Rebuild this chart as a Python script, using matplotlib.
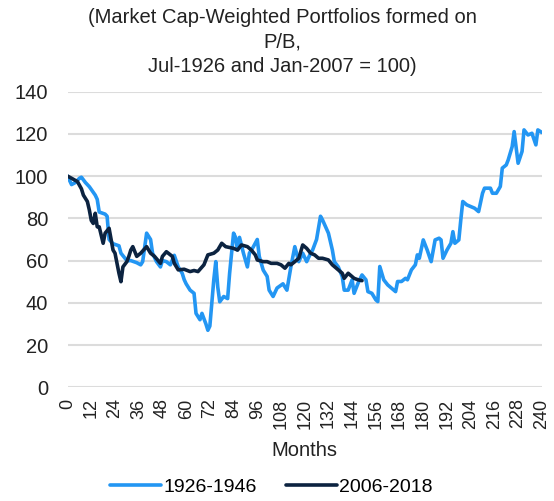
import numpy as np
import matplotlib.pyplot as plt

plt.rcParams['font.family'] = ['Liberation Sans', 'DejaVu Sans']

# 1926-1946 series (months since start, index value)
m_1926 = [0, 2, 4, 6, 7, 9, 11, 14, 15, 16, 19, 20, 21, 23, 26, 27, 30, 32, 35, 37,
          38, 40, 42, 43, 45, 47, 48, 50, 52, 54, 56, 58, 59, 60, 62, 64, 65, 67, 68, 70,
          71, 72, 74, 75, 76, 77, 79, 81, 82, 84, 85, 86, 87, 89, 91, 92, 94, 96, 97, 99,
          101, 102, 104, 106, 109, 111, 113, 115, 117, 119, 121, 123, 124, 126, 128, 129, 132, 134, 135, 137,
          139, 140, 142, 144, 145, 147, 149, 151, 152, 154, 156, 157, 158, 160, 162, 164, 166, 167, 169, 171,
          172, 174, 176, 177, 178, 180, 182, 184, 186, 188, 189, 190, 192, 194, 195, 196, 198, 199, 200, 202,
          204, 206, 208, 210, 211, 214, 215, 217, 219, 220, 222, 223, 225, 226, 228, 230, 231, 233, 235, 237,
          238, 240]
v_1926 = [100, 96, 97, 99, 99.5, 97, 95, 91, 89, 83, 82, 81, 70, 68, 67, 63.5, 60, 60, 59, 58,
          59.5, 73, 70, 63.5, 59.5, 57, 60, 59.5, 58, 62.5, 57, 54, 51, 49, 46, 44.5, 35, 32, 35, 30,
          27, 29, 51, 59.5, 47.5, 40.5, 43, 42, 54, 73, 71, 65, 71, 63.5, 57, 63.5, 66.5, 70, 62, 55.5,
          52.5, 46, 43, 47, 49, 46, 57, 66.6, 59.5, 63.5, 59.5, 63.5, 65, 70, 81, 79.3, 73, 65, 59.5, 57,
          52.4, 46, 46, 50.9, 44.5, 49.3, 53.2, 50.9, 45.3, 44.5, 41.4, 40.6, 57.2, 50.9, 48.5, 46.9, 45.3, 50.1, 50.1, 51.6,
          50.9, 55.6, 58, 62.7, 61.1, 69.8, 65, 59.5, 69.8, 70.6, 69.8, 61.1, 65, 68.2, 73.7, 68.2, 69.8, 79.3, 88, 86.4,
          85.6, 84.8, 83.2, 91.9, 94.3, 94.3, 91.9, 91.9, 95.1, 103.8, 105.3, 107.7, 114, 121.1, 106.1, 111.7, 121.9, 119.5, 120.3, 114.8,
          121.9, 120.7]

# 2006-2018 series
m_2006 = [0, 2, 5, 7, 8, 10, 11, 12, 13, 14, 15, 16, 18, 19, 21, 23, 24, 26, 27, 28,
          30, 31, 32, 33, 35, 37, 40, 42, 44, 47, 48, 50, 53, 54, 56, 59, 62, 64, 66, 69,
          71, 74, 76, 78, 80, 84, 86, 88, 91, 93, 95, 96, 99, 101, 103, 106, 108, 110, 112, 113,
          115, 117, 119, 121, 123, 125, 127, 129, 132, 134, 135, 137, 139, 140, 142, 144, 145, 147, 149]
v_2006 = [100, 99, 97.4, 94, 91, 88, 84, 79, 77.6, 82.4, 76, 76, 68.2, 73, 75.3, 65, 63.5, 54, 50, 57,
          59.5, 62, 65, 66.6, 62, 63.5, 66.6, 63.5, 62, 58.7, 62, 64.2, 62, 58.7, 55.6, 55.9, 54.8, 55.3, 54.8, 58,
          62.7, 63.5, 65, 68.2, 66.6, 65.8, 65, 67.4, 66.6, 65, 62.7, 60.3, 59.5, 59.5, 58.7, 58.7, 58, 56.4, 58.7, 58,
          59.5, 61.1, 67.4, 65.8, 63.5, 62.7, 61.1, 61.1, 60.3, 58, 57.2, 55.6, 54, 51.6, 54, 52.4, 51.6, 50.9, 50.5]

title_lines = ['(Market Cap-Weighted Portfolios formed on', 'P/B,', 'Jul-1926 and Jan-2007 = 100)']

fig = plt.figure(figsize=(5.54, 5.01), dpi=100)
ax = fig.add_axes([0.122, 0.227, 0.856, 0.590])

ax.plot(m_1926, v_1926, color='#2396f3', linewidth=2.6, label='1926-1946', solid_capstyle='round')
ax.plot(m_2006, v_2006, color='#0c2340', linewidth=2.6, label='2006-2018', solid_capstyle='round')

ax.set_xlim(0, 240)
ax.set_ylim(0, 140)
ax.set_xticks(np.arange(0, 241, 12))
ax.set_yticks(np.arange(0, 141, 20))
ax.tick_params(axis='y', length=0, pad=14, labelsize=14.5, colors='#222222')
ax.tick_params(axis='x', length=0, pad=8, labelsize=13, colors='#222222', labelrotation=90)
ax.grid(axis='y', color='#dcdcdc', linewidth=1.5)
ax.set_axisbelow(True)
for s in ax.spines.values():
    s.set_visible(False)

ax.set_xlabel('Months', fontsize=14.5, color='#222222', labelpad=9)

fig.text(0.51, 0.984, '\n'.join(title_lines), ha='center', va='top',
         fontsize=14.5, color='#222222', linespacing=1.35)

fig.legend(loc='lower center', bbox_to_anchor=(0.49, -0.025), ncol=2, frameon=False,
           fontsize=14, handlelength=2.6, handletextpad=0.15, columnspacing=1.5)

fig.savefig('out.png', dpi=100)
